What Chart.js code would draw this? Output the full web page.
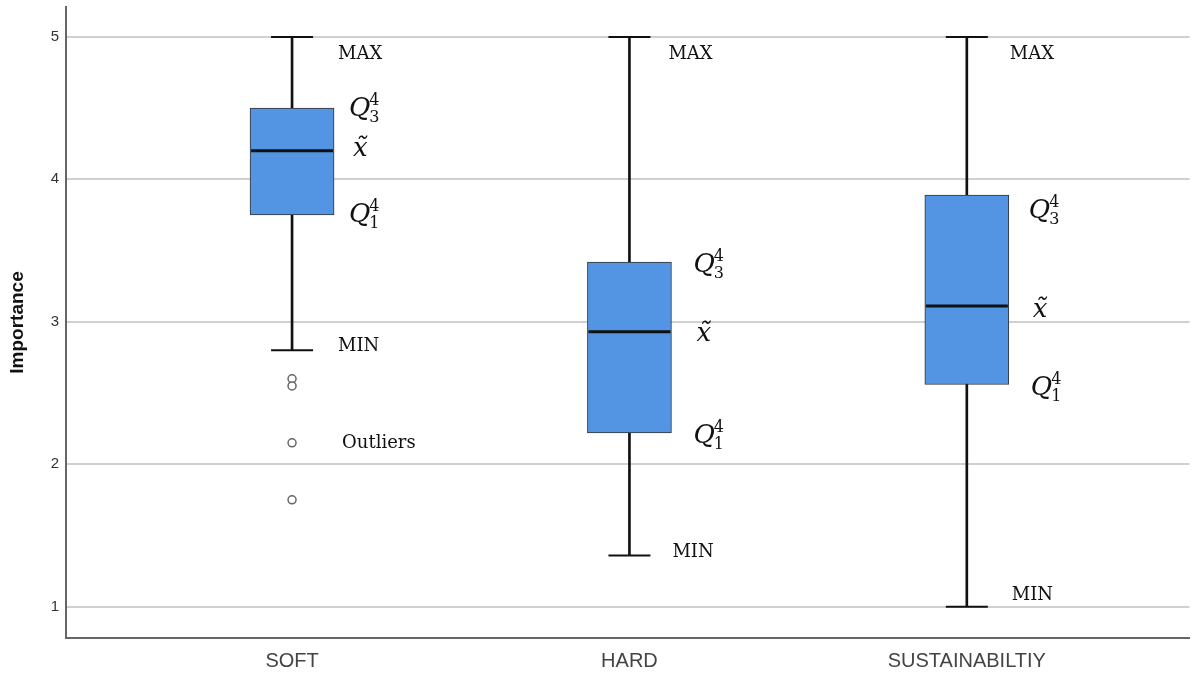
<!DOCTYPE html>
<html>
<head>
<meta charset="utf-8">
<script src="https://cdn.jsdelivr.net/npm/chart.js@4.4.0/dist/chart.umd.min.js"></script>
<style>
  body { margin: 0; background: #fff; }
  #wrap { width: 1195px; height: 673px; }
</style>
</head>
<body>
<div id="wrap"><canvas id="boxChart" width="1195" height="673"></canvas></div>
<script>
// data
const categories = ['SOFT', 'HARD', 'SUSTAINABILTIY'];
const maxVals = [5, 5, 5];
const q3Vals = [4.5, 3.42, 3.89];
const medianVals = [4.2, 2.93, 3.11];
const q1Vals = [3.75, 2.22, 2.56];
const minVals = [2.8, 1.36, 1.0];
const outlierCats = [1, 1, 1, 1];
const outlierVals = [2.6, 2.55, 2.15, 1.75];
const yTicks = [1, 2, 3, 4, 5];

const catPos = categories.map((c, i) => i + 1);

// label nudges (pixels) per category
const labelNudge = {
  maxDx: [46, 39, 43], maxDy: 22,
  q3Dx: [57, 64, 62], q3Dy: [8, 10, 23],
  medDx: [61, 67, 66], medDy: [5, 9, 11],
  q1Dx: [57, 64, 64], q1Dy: [7, 10, 11],
  minDx: [46, 43, 45], minDy: [1, 2, -7]
};

function drawQ(ctx, x, y, sub) {
  ctx.font = 'italic 26px "DejaVu Serif"';
  ctx.fillText('Q', x, y);
  const w = ctx.measureText('Q').width;
  ctx.font = '16px "DejaVu Serif"';
  ctx.fillText('4', x + w - 1, y - 11);
  ctx.fillText(sub, x + w - 1, y + 6);
}

// whisker caps + median lines, then the text notes
const boxExtras = {
  id: 'boxExtras',
  afterDatasetsDraw(chart) {
    const ctx = chart.ctx;
    const xs = chart.scales.x, ys = chart.scales.y;
    ctx.save();
    ctx.strokeStyle = '#111';
    catPos.forEach((p, i) => {
      const cx = xs.getPixelForValue(p);
      ctx.lineWidth = 2;
      [maxVals[i], minVals[i]].forEach(v => {
        const y = ys.getPixelForValue(v);
        ctx.beginPath();
        ctx.moveTo(cx - 21, y);
        ctx.lineTo(cx + 21, y);
        ctx.stroke();
      });
      ctx.lineWidth = 3;
      const my = ys.getPixelForValue(medianVals[i]);
      ctx.beginPath();
      ctx.moveTo(cx - 41, my);
      ctx.lineTo(cx + 41, my);
      ctx.stroke();
    });
    ctx.restore();
  },
  afterDraw(chart) {
    const ctx = chart.ctx;
    const xs = chart.scales.x, ys = chart.scales.y;
    const n = labelNudge;
    ctx.save();
    ctx.fillStyle = '#111';
    ctx.textBaseline = 'alphabetic';
    ctx.textAlign = 'left';
    catPos.forEach((p, i) => {
      const cx = xs.getPixelForValue(p);
      ctx.font = '18px "DejaVu Serif"';
      ctx.fillText('MAX', cx + n.maxDx[i], ys.getPixelForValue(maxVals[i]) + n.maxDy);
      ctx.fillText('MIN', cx + n.minDx[i], ys.getPixelForValue(minVals[i]) + n.minDy[i]);
      drawQ(ctx, cx + n.q3Dx[i], ys.getPixelForValue(q3Vals[i]) + n.q3Dy[i], '3');
      drawQ(ctx, cx + n.q1Dx[i], ys.getPixelForValue(q1Vals[i]) + n.q1Dy[i], '1');
      ctx.font = 'italic 26px "DejaVu Serif"';
      ctx.fillText('x\u0303', cx + n.medDx[i], ys.getPixelForValue(medianVals[i]) + n.medDy[i]);
    });
    // outliers note beside the SOFT outliers
    ctx.font = '18px "DejaVu Serif"';
    ctx.fillText('Outliers', xs.getPixelForValue(outlierCats[2]) + 50, ys.getPixelForValue(outlierVals[2]) + 5);
    ctx.restore();
  }
};

const ctx = document.getElementById('boxChart').getContext('2d');
new Chart(ctx, {
  type: 'bar',
  data: {
    datasets: [
      {
        label: 'Outliers',
        type: 'line',
        showLine: false,
        data: outlierVals.map((v, i) => ({ x: outlierCats[i], y: v })),
        pointRadius: 4,
        pointBorderWidth: 1.5,
        pointBorderColor: '#666',
        pointBackgroundColor: '#fff',
        order: 1
      },
      {
        label: 'Box',
        data: catPos.map((p, i) => ({ x: p, y: [q1Vals[i], q3Vals[i]] })),
        backgroundColor: '#5394e3',
        borderColor: '#333',
        borderWidth: 1,
        borderSkipped: false,
        barThickness: 84,
        grouped: false,
        order: 2
      },
      {
        label: 'Whisker',
        data: catPos.map((p, i) => ({ x: p, y: [minVals[i], maxVals[i]] })),
        backgroundColor: '#111',
        borderWidth: 0,
        barThickness: 2,
        grouped: false,
        order: 3
      }
    ]
  },
  options: {
    responsive: false,
    animation: false,
    layout: { padding: { top: 7, right: 5, left: 0, bottom: 0 } },
    plugins: {
      legend: { display: false },
      tooltip: { enabled: false }
    },
    scales: {
      x: {
        type: 'linear',
        offset: false,
        min: 0.33,
        max: 3.66,
        afterBuildTicks: s => { s.ticks = catPos.map(v => ({ value: v })); },
        afterFit: s => { s.height = 35; s.paddingLeft = 0; s.paddingRight = 0; },
        grid: { display: false },
        border: { display: true, color: '#666', width: 2 },
        ticks: {
          padding: 3,
          color: '#444',
          font: { family: '"Liberation Sans", Arial', size: 20 },
          callback: v => categories[v - 1]
        }
      },
      y: {
        min: 0.78,
        max: 5.21,
        afterBuildTicks: s => { s.ticks = yTicks.map(v => ({ value: v })); },
        afterFit: s => { s.width = 66; s.paddingTop = 0; s.paddingBottom = 0; },
        grid: { color: '#d0d0d0', lineWidth: 2, drawTicks: false },
        border: { display: true, color: '#666', width: 2 },
        ticks: {
          padding: 7,
          color: '#333',
          font: { family: '"Liberation Sans", Arial', size: 15 }
        },
        title: {
          display: true,
          text: 'Importance',
          color: '#111',
          padding: { top: 6, bottom: 0 },
          font: { family: '"Liberation Sans", Arial', size: 19, weight: 'bold' }
        }
      }
    }
  },
  plugins: [boxExtras]
});
</script>
</body>
</html>
